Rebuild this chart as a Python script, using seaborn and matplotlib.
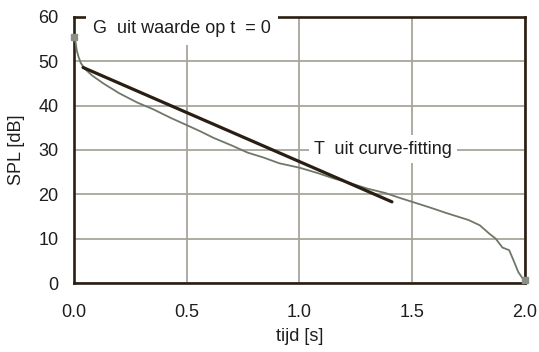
import matplotlib
matplotlib.use("Agg")
import matplotlib.pyplot as plt
import seaborn as sns
import pandas as pd

# Measured decay curve (sound pressure level vs. time)
tijd = [0.0, 0.005, 0.012, 0.02, 0.03, 0.05, 0.08, 0.13, 0.20, 0.28, 0.35, 0.43,
        0.50, 0.56, 0.62, 0.70, 0.77, 0.84, 0.91, 1.00, 1.08, 1.15, 1.22, 1.30,
        1.38, 1.45, 1.50, 1.58, 1.65, 1.70, 1.75, 1.80, 1.84, 1.87, 1.90, 1.93,
        1.95, 1.97, 1.99, 2.0]
spl = [55.5, 55.0, 52.5, 51.0, 49.6, 48.2, 46.8, 45.0, 42.8, 40.7, 39.2, 37.2,
       35.6, 34.2, 32.7, 31.0, 29.4, 28.3, 27.0, 26.0, 24.8, 23.6, 22.6, 21.3,
       20.3, 19.1, 18.3, 17.0, 15.8, 15.0, 14.2, 13.0, 11.2, 10.0, 8.0, 7.4,
       5.0, 2.5, 1.0, 0.6]

# Straight-line fit of the decay
fit_t = [0.04, 1.41]
fit_spl = [48.6, 18.3]

x_ticks = [0.0, 0.5, 1.0, 1.5, 2.0]
y_ticks = [0, 10, 20, 30, 40, 50, 60]

sns.set_style("white")
plt.rcParams["font.family"] = ["Liberation Sans", "DejaVu Sans"]

grid_col = "#a8a59b"
spine_col = "#2a1e12"
curve_col = "#6f776a"
text_col = "#1e1e1e"
fs = 13

fig = plt.figure(figsize=(5.39, 3.52), dpi=100)
ax = fig.add_axes([0.1373, 0.196, 0.8367, 0.756])

df_curve = pd.DataFrame({"tijd": tijd, "spl": spl})
df_fit = pd.DataFrame({"tijd": fit_t, "spl": fit_spl})

sns.lineplot(data=df_curve, x="tijd", y="spl", ax=ax, color=curve_col,
             linewidth=1.3, zorder=3, sort=False)
sns.lineplot(data=df_fit, x="tijd", y="spl", ax=ax, color=spine_col,
             linewidth=2.3, zorder=4)
# end markers of the measured curve
ax.plot([tijd[0], tijd[-1]], [spl[0], spl[-1]], linestyle="none", marker="s",
        markersize=4, color="#8a9184", zorder=5, clip_on=False)

ax.set_xlim(0, 2.0)
ax.set_ylim(0, 60)
ax.set_xticks(x_ticks)
ax.set_xticklabels([f"{v:.1f}" for v in x_ticks])
ax.set_yticks(y_ticks)
ax.set_yticklabels([str(v) for v in y_ticks])
ax.tick_params(axis="x", length=0, pad=15, labelsize=fs, labelcolor=text_col)
ax.tick_params(axis="y", length=0, pad=11, labelsize=fs, labelcolor=text_col)

ax.grid(True, color=grid_col, linewidth=1.3, zorder=1)
ax.set_axisbelow(True)
for side in ["left", "bottom", "top", "right"]:
    ax.spines[side].set_color(spine_col)
    ax.spines[side].set_linewidth(1.9)
    ax.spines[side].set_visible(True)

ax.set_xlabel("tijd [s]", fontsize=fs, color=text_col, labelpad=5)
ax.set_ylabel("SPL [dB]", fontsize=fs, color=text_col, labelpad=10)

ax.text(0.085, 57.3, "G  uit waarde op t  = 0", fontsize=fs, color=text_col,
        va="center", ha="left", zorder=10, clip_on=False,
        bbox=dict(boxstyle="square,pad=0.4", facecolor="white", edgecolor="none"))
ax.text(1.065, 30.2, "T  uit curve-fitting", fontsize=fs, color=text_col,
        va="center", ha="left", zorder=10,
        bbox=dict(boxstyle="square,pad=0.3", facecolor="white", edgecolor="none"))

fig.savefig("out.png", dpi=100)
